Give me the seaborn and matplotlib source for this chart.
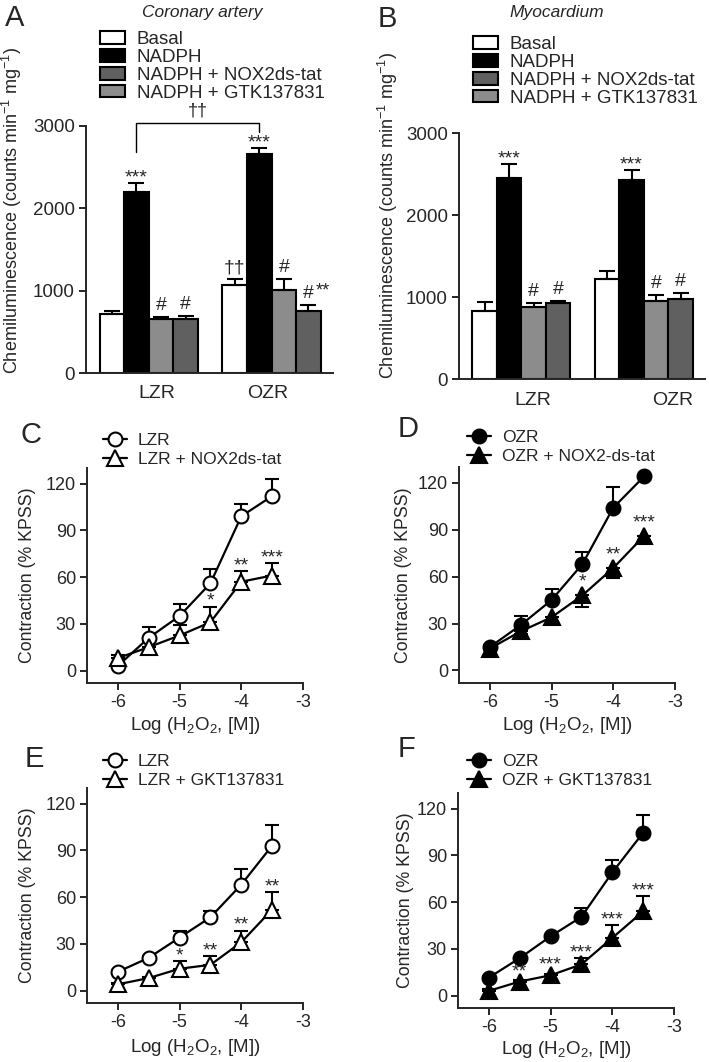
import numpy as np
import pandas as pd
import matplotlib
matplotlib.use('Agg')
import matplotlib.pyplot as plt
from matplotlib.patches import Patch
import seaborn as sns

# ---- bar data (chemiluminescence) ----
groups = ['LZR', 'OZR']
treatments = ['Basal', 'NADPH', 'NADPH + NOX2ds-tat', 'NADPH + GTK137831']

cor_lzr = [717, 2200, 650, 660]
cor_lzr_sem = [35, 110, 30, 35]
cor_ozr = [1070, 2660, 1010, 755]
cor_ozr_sem = [70, 75, 130, 70]
cor_marks = ['', '***', '#', '#', '††', '***', '#', '#^**']

myo_lzr = [830, 2450, 880, 930]
myo_lzr_sem = [105, 175, 45, 20]
myo_ozr = [1220, 2430, 950, 975]
myo_ozr_sem = [95, 120, 70, 75]
myo_marks = ['', '***', '#', '#', '', '***', '#', '#']

# ---- concentration-response data ----
conc = [-6, -5.5, -5, -4.5, -4, -3.5]

c_lzr = [3, 21, 35, 56, 99, 112]
c_lzr_sem = [2, 7, 8, 9, 8, 11]
c_nox = [8, 15, 22.5, 31, 57, 61]
c_nox_sem = [2, 4, 7, 10, 7, 8]
c_stars = ['', '', '', '*', '**', '***']

d_ozr = [15, 29, 45, 68, 104, 124]
d_ozr_sem = [1, 6, 7, 8, 13, 1]
d_nox = [14, 25, 34, 48, 65.5, 86]
d_nox_sem = [1, 2, 3, 7.5, 6.5, 4]
d_stars = ['', '', '', '*', '**', '***']

e_lzr = [12, 21, 34, 47, 68, 93]
e_lzr_sem = [1, 1, 4.5, 4, 10, 13]
e_gkt = [4, 8, 14, 16.5, 31, 52]
e_gkt_sem = [1, 1, 5, 5.5, 7.5, 11]
e_stars = ['', '', '*', '**', '**', '**']

f_ozr = [11.5, 24, 38, 50.5, 79, 104.5]
f_ozr_sem = [1, 1, 1, 5.5, 8, 11.5]
f_gkt = [3, 9, 13, 20, 37, 54]
f_gkt_sem = [1, 1, 1, 4, 8, 10]
f_stars = ['', '**', '***', '***', '***', '***']

bar_colors = ['white', 'black', '#8c8c8c', '#606060']
legend_colors = ['white', 'black', '#606060', '#8c8c8c']

sns.set_theme(style='ticks')
plt.rcParams['font.family'] = ['Liberation Sans', 'DejaVu Sans']
plt.rcParams['mathtext.fontset'] = 'custom'
plt.rcParams['mathtext.rm'] = 'Liberation Sans'
plt.rcParams['mathtext.it'] = 'Liberation Sans:italic'
plt.rcParams['axes.unicode_minus'] = False
plt.rcParams['axes.linewidth'] = 1.4

W, H = 709, 1062
fig = plt.figure(figsize=(W / 100, H / 100), dpi=100)


def px_axes(left, top, right, bottom):
    return fig.add_axes([left / W, 1 - bottom / H, (right - left) / W, (bottom - top) / H])


def bar_panel(ax, lzr, lzr_sem, ozr, ozr_sem, marks, ticks):
    df = pd.DataFrame({'group': np.repeat(groups, 4), 'treat': treatments * 2,
                       'val': lzr + ozr, 'err': lzr_sem + ozr_sem, 'mark': marks})
    sns.barplot(data=df, x='group', y='val', hue='treat', hue_order=treatments,
                palette=bar_colors, saturation=1, edgecolor='black', linewidth=1.5,
                errorbar=None, legend=False, width=0.8, ax=ax)
    centers = {}
    for bar in ax.patches:
        h = bar.get_height()
        row = df[np.isclose(df['val'], h)].iloc[0]
        xc = bar.get_x() + bar.get_width() / 2
        centers[(row['group'], row['treat'])] = xc
        ax.errorbar(xc, row['val'], yerr=[[0], [row['err']]], fmt='none', ecolor='black',
                    elinewidth=1.5, capsize=6, capthick=1.5, zorder=1)
        m = row['mark']
        if m:
            top = row['val'] + row['err']
            main, _, sup = m.partition('^')
            dy = 0 if main.startswith('*') else 5
            ax.annotate(main, (xc, top), xytext=(0, dy), textcoords='offset points',
                        ha='center', va='baseline', fontsize=14)
            if sup:
                ax.annotate(sup, (xc, top), xytext=(5, 7), textcoords='offset points',
                            ha='left', va='baseline', fontsize=13)
    ax.set_ylim(0, 3000)
    ax.set_xlim(-0.51, 1.5)
    ax.set_yticks([0, 1000, 2000, 3000])
    ax.set_xticks(ticks, groups)
    ax.tick_params(axis='x', length=0, pad=9, labelsize=14)
    ax.tick_params(axis='y', length=5, width=1.4, labelsize=13.5, pad=3)
    ax.set_xlabel('')
    ax.set_ylabel('')
    sns.despine(ax=ax)
    return centers


def bar_legend(ax, x, top):
    handles = [Patch(facecolor=c, edgecolor='black', linewidth=1.5) for c in legend_colors]
    ax.legend(handles, treatments, loc='upper left', bbox_to_anchor=(x / W, 1 - top / H),
              bbox_transform=fig.transFigure, frameon=False, fontsize=13.5,
              handlelength=1.35, handleheight=0.65, handletextpad=0.6,
              labelspacing=0.05, borderpad=0, borderaxespad=0)


def curve_panel(ax, y1, e1, y2, e2, stars, lab1, lab2, filled, down2=False):
    fc = 'black' if filled else 'white'
    zeros = np.zeros(len(conc))
    ax.errorbar(conc, y1, yerr=[zeros, e1], fmt='none', ecolor='black',
                elinewidth=1.5, capsize=5, capthick=1.5, zorder=2)
    yerr2 = [e2, zeros] if down2 else [zeros, e2]
    ax.errorbar(conc, y2, yerr=yerr2, fmt='none', ecolor='black',
                elinewidth=1.5, capsize=5, capthick=1.5, zorder=2)
    sns.lineplot(x=conc, y=y1, marker='o', markersize=10, markerfacecolor=fc,
                 markeredgecolor='black', markeredgewidth=1.5, color='black',
                 linewidth=1.6, label=lab1, errorbar=None, zorder=3, ax=ax)
    sns.lineplot(x=conc, y=y2, marker='^', markersize=11, markerfacecolor=fc,
                 markeredgecolor='black', markeredgewidth=1.5, color='black',
                 linewidth=1.6, label=lab2, errorbar=None, zorder=3, ax=ax)
    for xv, yv, ev, s in zip(conc, y2, e2, stars):
        if not s:
            continue
        top = yv + 5 if down2 else max(yv + ev, yv + 3)
        ax.annotate(s, (xv, top), xytext=(0, 0.5), textcoords='offset points',
                    ha='center', va='baseline', fontsize=14, zorder=5)
    ax.set_xlim(-6.5, -3)
    ax.set_ylim(-8, 130)
    ax.set_xticks([-6, -5, -4, -3])
    ax.set_yticks([0, 30, 60, 90, 120])
    ax.tick_params(length=5, width=1.4, labelsize=13, pad=3)
    ax.set_xlabel('')
    ax.set_ylabel('')
    sns.despine(ax=ax)


def curve_legend(ax, x, top):
    ax.legend(loc='upper left', bbox_to_anchor=(x / W, 1 - top / H),
              bbox_transform=fig.transFigure, frameon=False, fontsize=12.5,
              handlelength=1.4, handletextpad=0.6, labelspacing=0.2,
              borderpad=0, borderaxespad=0, numpoints=1)


# ---- A: coronary artery ----
axA = px_axes(86, 126, 333, 373)
cA = bar_panel(axA, cor_lzr, cor_lzr_sem, cor_ozr, cor_ozr_sem, cor_marks, [0.07, 0.97])
bar_legend(axA, 100, 31)
x1 = cA[('LZR', 'NADPH')]
x2 = cA[('OZR', 'NADPH')]
axA.plot([x1, x1, x2, x2], [2680, 3040, 3040, 2930], color='black', lw=1, clip_on=False)
axA.text((x1 + x2) / 2, 3080, '††', ha='center', va='bottom', fontsize=13)

# ---- B: myocardium ----
axB = px_axes(459, 133, 705, 379)
bar_panel(axB, myo_lzr, myo_lzr_sem, myo_ozr, myo_ozr_sem, myo_marks, [0.09, 1.24])
bar_legend(axB, 473, 36)

# ---- C-F: contraction curves ----
axC = px_axes(87, 468, 303, 683)
curve_panel(axC, c_lzr, c_lzr_sem, c_nox, c_nox_sem, c_stars, 'LZR', 'LZR + NOX2ds-tat', False)
curve_legend(axC, 103, 433)

axD = px_axes(459, 467, 675, 683)
curve_panel(axD, d_ozr, d_ozr_sem, d_nox, d_nox_sem, d_stars, 'OZR', 'OZR + NOX2-ds-tat', True, down2=True)
curve_legend(axD, 467, 430)

axE = px_axes(87, 788, 303, 1003)
curve_panel(axE, e_lzr, e_lzr_sem, e_gkt, e_gkt_sem, e_stars, 'LZR', 'LZR + GKT137831', False)
curve_legend(axE, 103, 754)

axF = px_axes(458, 793, 674, 1008)
curve_panel(axF, f_ozr, f_ozr_sem, f_gkt, f_gkt_sem, f_stars, 'OZR', 'OZR + GKT137831', True)
curve_legend(axF, 467, 754)

# ---- titles, axis labels, panel letters ----
fig.text(202 / W, 1 - 12 / H, 'Coronary artery', style='italic', ha='center', va='center', fontsize=12.5)
fig.text(557 / W, 1 - 13 / H, 'Myocardium', style='italic', ha='center', va='center', fontsize=12.5)

chem = 'Chemiluminescence (counts min$^{-1}$ mg$^{-1}$)'
fig.text(12 / W, 1 - 210 / H, chem, rotation=90, ha='center', va='center', fontsize=13)
fig.text(388 / W, 1 - 215 / H, chem, rotation=90, ha='center', va='center', fontsize=13)

contr = 'Contraction (% KPSS)'
for x, y in [(28, 575), (403, 575), (28, 895), (405, 900)]:
    fig.text(x / W, 1 - y / H, contr, rotation=90, ha='center', va='center', fontsize=12.8)

logl = 'Log (H$_2$O$_2$, [M])'
for x, y in [(195, 725), (567, 725), (195, 1047), (566, 1050)]:
    fig.text(x / W, 1 - y / H, logl, ha='center', va='center', fontsize=13.5)

for lab, x, y in [('A', 5, 26), ('B', 378, 27), ('C', 20, 443),
                  ('D', 398, 437), ('E', 25, 767), ('F', 398, 757)]:
    fig.text(x / W, 1 - y / H, lab, fontsize=21, va='baseline', ha='left')

fig.savefig('out.png', dpi=100)
